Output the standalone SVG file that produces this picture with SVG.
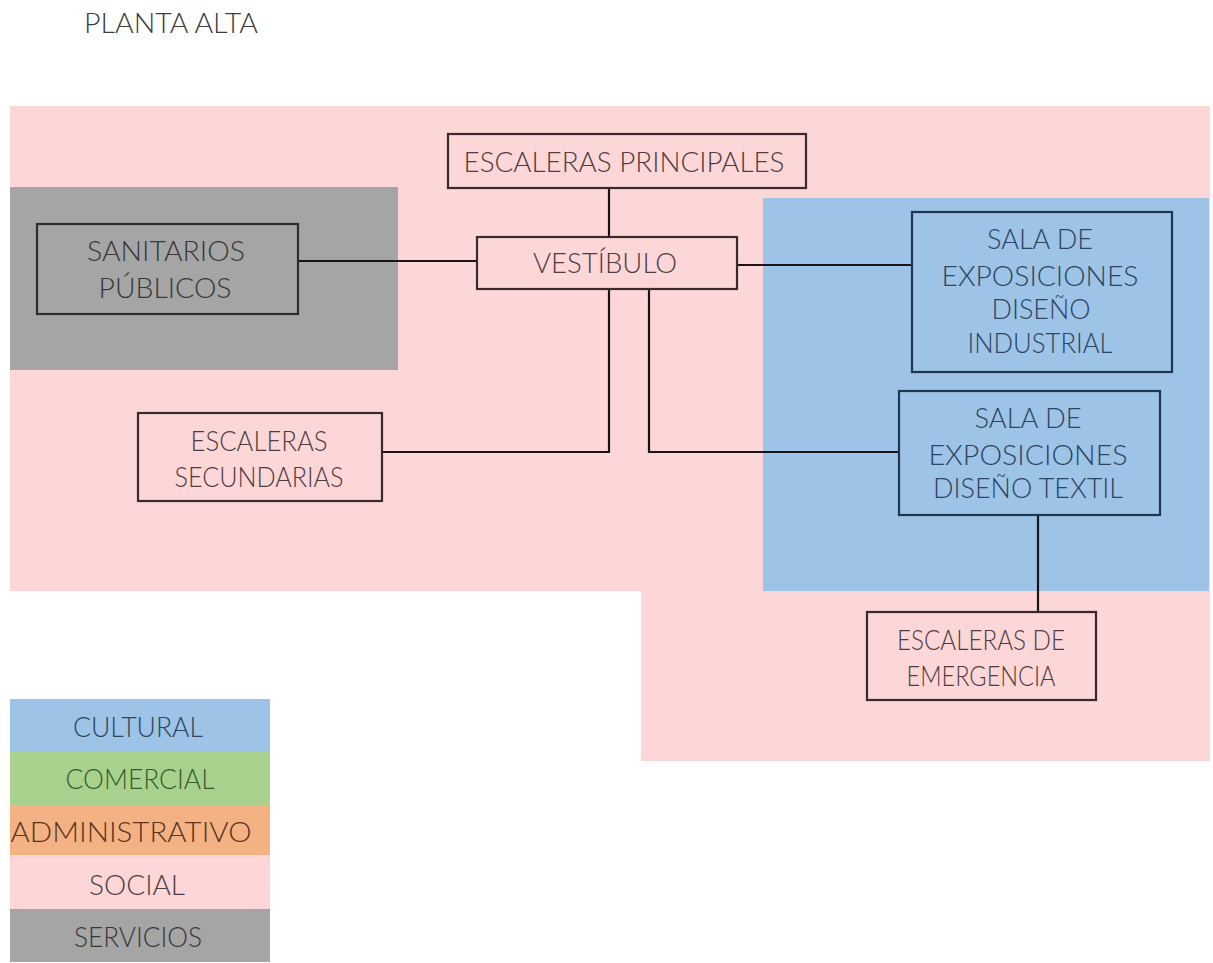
<svg xmlns="http://www.w3.org/2000/svg" width="1213" height="963" viewBox="0 0 1213 963">
<style>
text{font-family:Lato,"Liberation Sans",sans-serif;font-weight:300;font-size:27px;text-anchor:middle}
.box{stroke-width:2.2}
.pk{fill:#fdd6d8;stroke:#3a2a2c}
.bl{fill:#9dc3e6;stroke:#1f3550}
.gr{fill:#a5a5a5;stroke:#2e2e2e}
.tp{fill:#4d3d40}
.tb{fill:#2c4560}
.tg{fill:#383838}
.conn line,.conn polyline{stroke:#1a1416;stroke-width:2.2;fill:none}
</style>
<rect width="1213" height="963" fill="#ffffff"/>
<g id="zones">
<polygon points="10,106 1210,106 1210,761 641,761 641,591 10,591" fill="#fdd6d8"/>
<rect x="10" y="187" width="388" height="183" fill="#a5a5a5"/>
<rect x="763" y="198" width="446" height="393" fill="#9dc3e6"/>
</g>
<text x="171" y="33" fill="#3c3c3c" textLength="174" lengthAdjust="spacingAndGlyphs">PLANTA ALTA</text>
<g class="conn" id="connectors">
<line x1="609" y1="188" x2="609" y2="237"/>
<line x1="298" y1="261" x2="477" y2="261"/>
<line x1="737" y1="265" x2="912" y2="265"/>
<polyline points="609,289 609,452 382,452"/>
<polyline points="649,288 649,452 899,452"/>
<line x1="1038" y1="515" x2="1038" y2="612"/>
</g>
<g id="escaleras-principales">
<rect class="box pk" x="448" y="134" width="358" height="54"/>
<text class="tp" x="624" y="172" textLength="321" lengthAdjust="spacingAndGlyphs">ESCALERAS PRINCIPALES</text>
</g>
<g id="vestibulo">
<rect class="box pk" x="477" y="237" width="260" height="52"/>
<text class="tp" x="605" y="273" textLength="144" lengthAdjust="spacingAndGlyphs">VESTÍBULO</text>
</g>
<g id="sanitarios">
<rect class="box gr" x="37" y="224" width="261" height="90"/>
<text class="tg" x="166" y="261" textLength="158" lengthAdjust="spacingAndGlyphs">SANITARIOS</text>
<text class="tg" x="165" y="298" textLength="133" lengthAdjust="spacingAndGlyphs">PÚBLICOS</text>
</g>
<g id="sala-industrial">
<rect class="box bl" x="912" y="212" width="260" height="160"/>
<text class="tb" x="1040" y="249" textLength="106" lengthAdjust="spacingAndGlyphs">SALA DE</text>
<text class="tb" x="1040" y="286" textLength="197" lengthAdjust="spacingAndGlyphs">EXPOSICIONES</text>
<text class="tb" x="1041" y="319" textLength="99" lengthAdjust="spacingAndGlyphs">DISEÑO</text>
<text class="tb" x="1040" y="353" textLength="145" lengthAdjust="spacingAndGlyphs">INDUSTRIAL</text>
</g>
<g id="sala-textil">
<rect class="box bl" x="899" y="391" width="261" height="124"/>
<text class="tb" x="1028" y="428" textLength="107" lengthAdjust="spacingAndGlyphs">SALA DE</text>
<text class="tb" x="1028" y="465" textLength="199" lengthAdjust="spacingAndGlyphs">EXPOSICIONES</text>
<text class="tb" x="1028" y="498" textLength="190" lengthAdjust="spacingAndGlyphs">DISEÑO TEXTIL</text>
</g>
<g id="escaleras-secundarias">
<rect class="box pk" x="138" y="413" width="244" height="88"/>
<text class="tp" x="259" y="451" textLength="137" lengthAdjust="spacingAndGlyphs">ESCALERAS</text>
<text class="tp" x="259" y="487" textLength="169" lengthAdjust="spacingAndGlyphs">SECUNDARIAS</text>
</g>
<g id="escaleras-emergencia">
<rect class="box pk" x="867" y="612" width="229" height="88"/>
<text class="tp" x="981" y="650" textLength="168" lengthAdjust="spacingAndGlyphs">ESCALERAS DE</text>
<text class="tp" x="981" y="686" textLength="149" lengthAdjust="spacingAndGlyphs">EMERGENCIA</text>
</g>
<g id="legend">
<rect x="10" y="699" width="260" height="53" fill="#9dc3e6"/>
<rect x="10" y="752" width="260" height="53" fill="#a9d18e"/>
<rect x="10" y="805" width="260" height="50" fill="#f4b183"/>
<rect x="10" y="855" width="260" height="54" fill="#fdd6d8"/>
<rect x="10" y="909" width="260" height="53" fill="#a5a5a5"/>
<text x="138" y="737" fill="#2c4560" textLength="130" lengthAdjust="spacingAndGlyphs">CULTURAL</text>
<text x="140" y="789" fill="#375a2a" textLength="149" lengthAdjust="spacingAndGlyphs">COMERCIAL</text>
<text x="131" y="842" fill="#5a3420" textLength="241" lengthAdjust="spacingAndGlyphs">ADMINISTRATIVO</text>
<text x="137" y="895" fill="#4d3d40" textLength="96" lengthAdjust="spacingAndGlyphs">SOCIAL</text>
<text x="138" y="947" fill="#383838" textLength="128" lengthAdjust="spacingAndGlyphs">SERVICIOS</text>
</g>
</svg>
